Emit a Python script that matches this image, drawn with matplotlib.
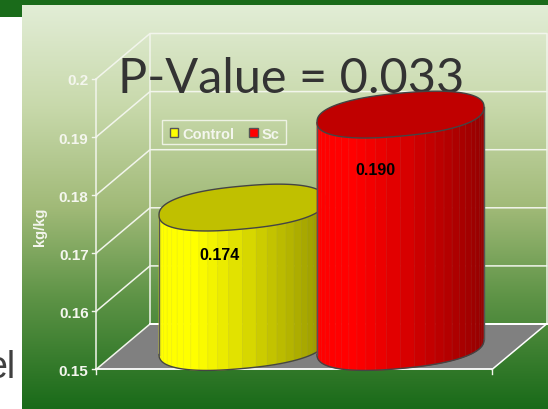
import numpy as np
import matplotlib
matplotlib.use("Agg")
import matplotlib.pyplot as plt
from matplotlib.colors import LinearSegmentedColormap
from matplotlib.patches import Polygon, Rectangle

categories = ["Control", "Sc"]
values = [0.174, 0.190]
value_labels = ["0.174", "0.190"]
bar_colors = [(1.0, 1.0, 0.0), (1.0, 0.0, 0.0)]
y_ticks = [0.15, 0.16, 0.17, 0.18, 0.19, 0.2]
y_tick_labels = ["0.15", "0.16", "0.17", "0.18", "0.19", "0.2"]

# layout in pixels of the 548x410 picture
PX_PER_UNIT = 5810.0
Y_BASE = 370.5
X_FRONT_L, X_FRONT_R = 96, 492
X_BACK_L, X_BACK_R = 150, 546.5
DEPTH = 45.5
GRID = "#f2f5ec"


def yv(py):
    return 0.15 + (Y_BASE - py) / PX_PER_UNIT


def dy(px):
    return px / PX_PER_UNIT


def shade(color, frac):
    # bright on the left, falling off to the right
    f = 1.0 if frac < 0.2 else 1.0 - 0.42 * (frac - 0.2) / 0.8
    return tuple(c * f for c in color)


def draw_cylinder(ax, cx, value, color, z, half_w=83.5, b=21.5, s=7.5, n=26):
    base = yv(348)
    top = value + (base - 0.15)

    def rim(t, level):
        # slightly squared-off ellipse, tilted up to the right
        c, k = np.cos(t), np.sin(t)
        c = np.sign(c) * np.abs(c) ** 0.85
        k = np.sign(k) * np.abs(k) ** 0.85
        return cx + half_w * c, level - dy(b * k - s * c)

    edges = np.linspace(np.pi, 0, n + 1)
    for i in range(n):
        t = np.linspace(edges[i], edges[i + 1], 5)
        xb, yb = rim(t, base)
        xt, yt = rim(t, top)
        col = shade(color, (xb[0] - (cx - half_w)) / (2 * half_w))
        pts = np.column_stack([np.r_[xt, xb[::-1]], np.r_[yt, yb[::-1]]])
        ax.add_patch(Polygon(pts, closed=True, fc=col, ec=tuple(min(1, c * 0.9 + 0.06) for c in col),
                             lw=0.5, zorder=z))
    # outline of the side
    t = np.linspace(np.pi, 0, 80)
    xb, yb = rim(t, base)
    ax.plot(xb, yb, color="#444444", lw=1.0, zorder=z + 0.1)
    for t0 in (np.pi, 0.0):
        xa, ya = rim(t0, base)
        xc, yc = rim(t0, top)
        ax.plot([xa, xc], [ya, yc], color="#555555", lw=1.0, zorder=z + 0.1)
    # top face
    t = np.linspace(0, 2 * np.pi, 160)
    xt, yt = rim(t, top)
    ax.add_patch(Polygon(np.column_stack([xt, yt]), closed=True,
                         fc=tuple(c * 0.753 for c in color), ec="#444444", lw=1.0, zorder=z + 0.2))


fig = plt.figure(figsize=(5.48, 4.10), dpi=100)
ax = fig.add_axes([0, 0, 1, 1])
ax.axis("off")

# slide background
cmap = LinearSegmentedColormap.from_list(
    "bg", [(0.0, "#e2edd6"), (0.25, "#c8d9ab"), (0.5, "#a1ba78"),
           (0.72, "#5f9447"), (1.0, "#196a19")])
ax.imshow(np.linspace(0, 1, 256).reshape(-1, 1), cmap=cmap, aspect="auto",
          extent=(22, 548, yv(410), yv(6)), origin="upper", zorder=0)
ax.add_patch(Rectangle((0, yv(6)), 548, dy(6), fc="#1a6b1a", ec="none", zorder=1))
ax.add_patch(Rectangle((0, yv(18)), 22, dy(18), fc="#1a6b1a", ec="none", zorder=1))
ax.text(15, yv(378), "el", ha="right", va="baseline", fontsize=27, color="#404040",
        family="Liberation Sans", zorder=1)

# floor and walls
ax.add_patch(Polygon([(X_FRONT_L, 0.15), (X_FRONT_R, 0.15),
                      (X_BACK_R, 0.15 + dy(DEPTH)), (X_BACK_L, 0.15 + dy(DEPTH))],
                     closed=True, fc="#808080", ec="none", zorder=2))
for v in y_ticks:
    ax.plot([X_FRONT_L, X_BACK_L, X_BACK_R], [v, v + dy(DEPTH), v + dy(DEPTH)],
            color=GRID, lw=1.1, zorder=3)
    ax.plot([X_FRONT_L - 4, X_FRONT_L], [v, v], color=GRID, lw=1.0, zorder=3)
top_v, bot_v = y_ticks[-1], y_ticks[0]
ax.plot([X_FRONT_L, X_FRONT_L], [bot_v, top_v], color=GRID, lw=1.1, zorder=3)
ax.plot([X_BACK_L, X_BACK_L], [bot_v + dy(DEPTH), top_v + dy(DEPTH)], color=GRID, lw=1.1, zorder=3)
ax.plot([X_BACK_R, X_BACK_R], [bot_v + dy(DEPTH), top_v + dy(DEPTH)], color=GRID, lw=1.1, zorder=3)
ax.plot([X_FRONT_L, X_FRONT_R], [bot_v, bot_v], color="white", lw=1.3, zorder=3)
ax.plot([X_FRONT_R, X_BACK_R], [bot_v, bot_v + dy(DEPTH)], color="white", lw=1.1, zorder=3)
ax.plot([X_BACK_L, X_BACK_R], [bot_v + dy(DEPTH)] * 2, color="white", lw=1.4, zorder=3)
for x in (X_FRONT_L, X_FRONT_R):
    ax.plot([x, x], [bot_v, bot_v - dy(5)], color=GRID, lw=1.0, zorder=3)

for v, lab in zip(y_ticks, y_tick_labels):
    ax.text(88.5, v, lab, ha="right", va="center_baseline", fontsize=11, fontweight="bold",
            color="#f4f6ee", family="Liberation Sans", zorder=4)
ax.text(40.5, yv(227), "kg/kg", rotation=90, ha="center", va="center", fontsize=10.5,
        fontweight="bold", color="#f4f6ee", family="Liberation Sans", zorder=4)

# cylinders
centers = [242.5, 400.5]
label_py = [254, 169]
for i, (cx, v, col) in enumerate(zip(centers, values, bar_colors)):
    draw_cylinder(ax, cx, v, col, 5 + i)
for cx, lab, lp, off in zip(centers, value_labels, label_py, [-23.5, -25]):
    ax.text(cx + off, yv(lp), lab, ha="center", va="center_baseline", fontsize=11.5, fontweight="bold",
            color="black", family="Liberation Sans", zorder=8)

# legend
ax.add_patch(Rectangle((162, yv(145)), 124, dy(24), fc="none", ec="#eef2e4", lw=1.0, zorder=4))
for x, col, name in zip([169.5, 249], bar_colors, categories):
    ax.add_patch(Rectangle((x, yv(137.5)), 8.5, dy(9), fc=col, ec="#555555", lw=1.0, zorder=4))
    ax.text(x + 13, yv(133.5), name, ha="left", va="center_baseline", fontsize=10.5, fontweight="bold",
            color="#f4f6ee", family="Liberation Sans", zorder=4)

# title
ax.text(291.5, yv(93), "P-Value = 0.033", ha="center", va="baseline", fontsize=35,
        color="#333333", family="Lato", zorder=5)

ax.set_xlim(0, 548)
ax.set_ylim(yv(410), yv(0))
fig.savefig("out.png", dpi=100, facecolor="white")
